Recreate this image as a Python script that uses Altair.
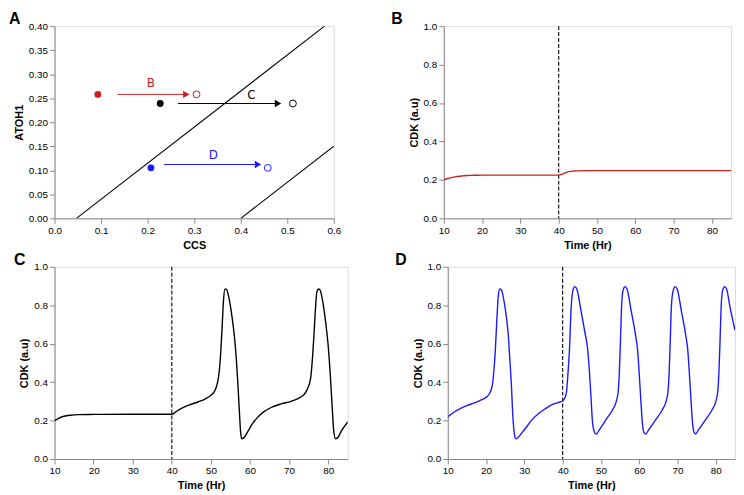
import altair as alt
import pandas as pd

# ---------------- Panel A data ----------------
boundary1_ccs = [0.047, 0.58]
boundary1_atoh1 = [0.0, 0.40]
boundary2_ccs = [0.40, 0.60]
boundary2_atoh1 = [0.0, 0.15]

cases = ["B", "C", "D"]
case_colors = ["#cc2020", "#000000", "#1a1aff"]
start_ccs = [0.093, 0.227, 0.207]
start_atoh1 = [0.258, 0.239, 0.105]
end_ccs = [0.305, 0.512, 0.458]
end_atoh1 = [0.258, 0.239, 0.105]
arrow_from = [0.135, 0.265, 0.235]
arrow_to = [0.283, 0.480, 0.437]
arrow_atoh1 = [0.258, 0.239, 0.112]
label_ccs = [0.207, 0.423, 0.341]
label_atoh1 = [0.281, 0.257, 0.131]

# ---------------- Panel B data ----------------
b_time = [10, 11, 12, 13, 14, 15, 16, 18, 20, 25, 30, 35, 40, 40.8, 41.5, 42.2, 43, 44, 45, 47, 50, 60, 70, 80, 85]
b_cdk = [0.200, 0.207, 0.212, 0.216, 0.219, 0.221, 0.223, 0.224, 0.225, 0.225, 0.225, 0.225, 0.225,
         0.229, 0.235, 0.240, 0.244, 0.246, 0.247, 0.248, 0.248, 0.248, 0.248, 0.248, 0.248]

# ---------------- Panel C data ----------------
c_time = [10, 11, 12, 13, 14, 16, 20, 30, 40, 41, 42, 43.4, 45, 46.8, 48.5, 50.2, 51.0, 51.6, 52.1,
          52.5, 52.9, 53.2, 53.6, 54.0, 54.7, 55.4, 56.0, 56.5, 56.9, 57.3, 57.6, 57.9, 58.4, 59.5,
          60.5, 62.0, 63.5, 65.4, 68, 70.5, 72.5, 73.8, 74.8, 75.5, 76.0, 76.4, 76.8, 77.1, 77.5,
          77.9, 78.6, 79.3, 80.0, 80.5, 81.0, 81.4, 81.9, 82.4, 83.5, 85]
c_cdk = [0.200, 0.212, 0.220, 0.225, 0.228, 0.231, 0.232, 0.233, 0.233, 0.245, 0.258, 0.273, 0.285,
         0.298, 0.312, 0.335, 0.355, 0.39, 0.45, 0.55, 0.70, 0.82, 0.885, 0.882, 0.83, 0.74, 0.64,
         0.52, 0.39, 0.24, 0.14, 0.105, 0.11, 0.145, 0.18, 0.218, 0.245, 0.268, 0.287, 0.30, 0.317,
         0.335, 0.37, 0.42, 0.53, 0.66, 0.80, 0.87, 0.885, 0.88, 0.82, 0.72, 0.59, 0.45, 0.28, 0.15,
         0.105, 0.11, 0.15, 0.193]

# ---------------- Panel D data ----------------
d_time = [10, 11.5, 13.5, 15, 17, 19, 20.3, 21.0, 21.6, 22.0, 22.4, 22.8, 23.2, 23.6, 24.0, 24.7,
          25.3, 25.8, 26.2, 26.6, 27.0, 27.4, 27.8, 28.4, 29.5, 30.5, 32, 33.8, 35.5, 37.2, 39, 40,
          40.6, 41.0, 41.4, 41.8, 42.2, 42.7, 43.2, 43.7, 44.8, 45.8, 46.5, 47.0, 47.4, 47.8, 48.3,
          48.8, 49.5, 51.5, 53.0, 54.0, 54.5, 54.8, 55.1, 55.4, 55.8, 56.3, 56.8, 57.9, 58.9, 59.6,
          60.0, 60.4, 60.8, 61.2, 61.7, 62.4, 64.5, 66.0, 67.0, 67.5, 67.8, 68.1, 68.4, 68.9, 69.4,
          69.9, 71.0, 72.0, 72.7, 73.1, 73.5, 73.9, 74.3, 74.7, 75.4, 77.5, 79.0, 80.0, 80.5, 80.8,
          81.1, 81.4, 81.8, 82.3, 82.8, 83.7, 85.0]
d_cdk = [0.220, 0.242, 0.265, 0.278, 0.292, 0.310, 0.325, 0.345, 0.38, 0.45, 0.56, 0.72, 0.85,
         0.885, 0.88, 0.82, 0.74, 0.645, 0.52, 0.39, 0.22, 0.13, 0.105, 0.113, 0.14, 0.165, 0.205,
         0.238, 0.262, 0.283, 0.295, 0.302, 0.32, 0.35, 0.45, 0.58, 0.78, 0.88, 0.897, 0.885, 0.77,
         0.66, 0.575, 0.45, 0.32, 0.19, 0.14, 0.13, 0.15, 0.21, 0.255, 0.30, 0.35, 0.45, 0.62, 0.80,
         0.88, 0.897, 0.885, 0.77, 0.66, 0.56, 0.44, 0.31, 0.19, 0.14, 0.13, 0.15, 0.21, 0.255, 0.30,
         0.35, 0.45, 0.62, 0.80, 0.88, 0.897, 0.885, 0.77, 0.66, 0.56, 0.44, 0.31, 0.19, 0.14, 0.13,
         0.15, 0.21, 0.255, 0.30, 0.35, 0.45, 0.62, 0.80, 0.88, 0.897, 0.885, 0.79, 0.67]

stim_time = [40]
time_ticks = [10, 20, 30, 40, 50, 60, 70, 80]
cdk_ticks = [0.0, 0.2, 0.4, 0.6, 0.8, 1.0]
ccs_ticks = [0.0, 0.1, 0.2, 0.3, 0.4, 0.5, 0.6]
atoh_ticks = [0.0, 0.05, 0.10, 0.15, 0.20, 0.25, 0.30, 0.35, 0.40]

FONT = "DejaVu Sans"
PANEL_H = 194
color_scale = alt.Scale(domain=cases, range=case_colors)


def axis(values, fmt, title):
    return alt.Axis(values=values, format=fmt, title=title, grid=False, labelOverlap=False,
                    labelFlush=False)


def letter(txt, dx):
    return alt.Chart(pd.DataFrame({"lab": [txt]})).mark_text(
        align="left", baseline="top", fontSize=16, fontWeight="bold",
        font="Liberation Sans", color="black"
    ).encode(x=alt.value(dx), y=alt.value(-15), text="lab:N")


# ---------------- Panel A ----------------
ccs_scale = alt.Scale(domain=[0, 0.6], nice=False, zero=False, padding=0)
atoh_scale = alt.Scale(domain=[0, 0.4], nice=False, zero=False, padding=0)
x_a = axis(ccs_ticks, ".1f", "CCS")
y_a = axis(atoh_ticks, ".2f", "ATOH1")


def ax(field):
    return alt.X(field, type="quantitative", scale=ccs_scale, axis=x_a)


def ay(field):
    return alt.Y(field, type="quantitative", scale=atoh_scale, axis=y_a)


bdf = pd.concat([
    pd.DataFrame({"ccs": boundary1_ccs, "atoh": boundary1_atoh1, "line": "b1"}),
    pd.DataFrame({"ccs": boundary2_ccs, "atoh": boundary2_atoh1, "line": "b2"}),
])
boundaries = alt.Chart(bdf).mark_line(color="black", strokeWidth=1.1, clip=True).encode(
    x=ax("ccs"), y=ay("atoh"), detail="line:N",
)

pts = pd.DataFrame({
    "case": cases, "sx": start_ccs, "sy": start_atoh1, "ex": end_ccs, "ey": end_atoh1,
    "af": arrow_from, "at": arrow_to, "ay": arrow_atoh1, "lx": label_ccs, "ly": label_atoh1,
})
col = alt.Color("case:N", scale=color_scale, legend=None)
starts = alt.Chart(pts).mark_circle(size=48, opacity=1).encode(x=ax("sx"), y=ay("sy"), color=col)
ends = alt.Chart(pts).mark_point(size=48, filled=False, strokeWidth=1, opacity=1, fill="white").encode(
    x=ax("ex"), y=ay("ey"), color=col)
shafts = alt.Chart(pts).mark_rule(strokeWidth=1).encode(
    x=ax("af"), x2="at:Q", y=ay("ay"), color=col)
heads = alt.Chart(pts).mark_point(shape="triangle-right", filled=True, size=55, opacity=1).encode(
    x=ax("at"), y=ay("ay"), color=col)
labels = alt.Chart(pts).mark_text(fontSize=12, font=FONT).encode(
    x=ax("lx"), y=ay("ly"), text="case:N", color=col)

panel_a = alt.layer(boundaries, shafts, heads, starts, ends, labels, letter("A", -46)).properties(
    width=282, height=PANEL_H)

# ---------------- Time panels ----------------
t_scale = alt.Scale(domain=[10, 85], nice=False, zero=False, padding=0)
c_scale = alt.Scale(domain=[0, 1], nice=False, padding=0)
x_t = axis(time_ticks, "d", "Time (Hr)")
y_t = axis(cdk_ticks, ".1f", "CDK (a.u)")


def time_panel(times, vals, color, tag, dx, w):
    df = pd.DataFrame({"t": times, "v": vals})
    line = alt.Chart(df).mark_line(color=color, strokeWidth=1.4, interpolate="monotone", clip=True).encode(
        x=alt.X("t:Q", scale=t_scale, axis=x_t),
        y=alt.Y("v:Q", scale=c_scale, axis=y_t),
    )
    vline = alt.Chart(pd.DataFrame({"t": stim_time})).mark_rule(
        color="black", strokeWidth=1.1, strokeDash=[4, 2]).encode(
        x=alt.X("t:Q", scale=t_scale, axis=x_t))
    return alt.layer(vline, line, letter(tag, dx)).properties(width=w, height=PANEL_H)


panel_b = time_panel(b_time, b_cdk, "#cc2020", "B", -53, 290)
panel_c = time_panel(c_time, c_cdk, "black", "C", -41, 296)
panel_d = time_panel(d_time, d_cdk, "#1a1aff", "D", -53, 290)

top = alt.hconcat(panel_a, panel_b, spacing=49)
bottom = alt.hconcat(panel_c, panel_d, spacing=46)

chart = alt.vconcat(top, bottom, spacing=0).configure_view(
    stroke="#444", strokeWidth=1
).configure_axis(
    grid=False, labelFont=FONT, labelFontSize=10, labelColor="#333",
    titleFont=FONT, titleFontSize=12, titleFontWeight="bold", titleColor="black",
    tickColor="#333", domainColor="#444", tickSize=3.5, labelPadding=1, titlePadding=1,
).configure(padding=0, background="white")

chart.save("out.html", embed_options={"renderer": "svg", "actions": False})
